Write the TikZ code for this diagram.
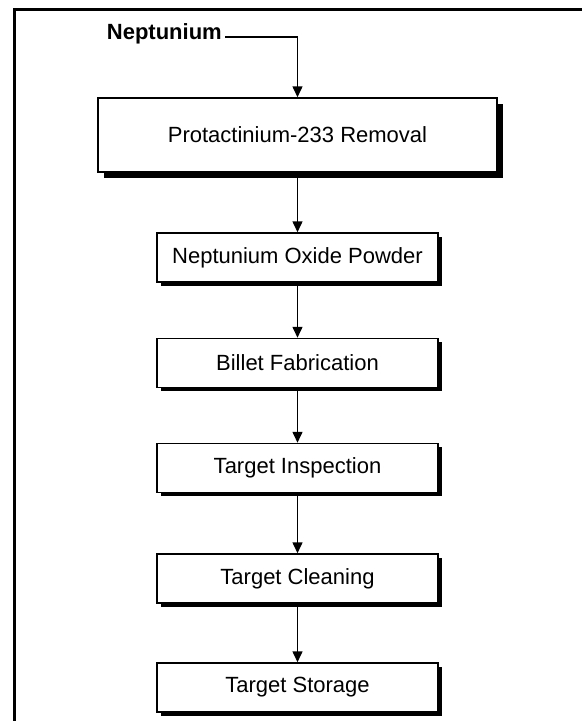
\documentclass[tikz,border=0pt]{standalone}
\usepackage{fontspec}
\setmainfont{Liberation Sans}
\usetikzlibrary{arrows.meta,%
                shapes,shadows,positioning}

\begin{document}
\begin{tikzpicture}[x=1pt,y=-1pt,
  every node/.style={font=\fontsize{22}{26}\selectfont},
  boxbase/.style={draw,fill=white,line width=1.5pt,inner sep=0pt},
  stepbox/.style={boxbase,minimum width=281pt,minimum height=49pt,
    drop shadow={shadow xshift=3.5pt,shadow yshift=-3.5pt,fill=black,opacity=1}},
  bigbox/.style={boxbase,minimum width=399pt,minimum height=74pt,
    drop shadow={shadow xshift=6pt,shadow yshift=-6pt,fill=black,opacity=1}},
  flow/.style={line width=1.5pt,-{Triangle[length=11pt,width=10pt]}}]
\useasboundingbox (0,0) rectangle (582,721);
\draw[line width=3pt] (14.5,721) -- (14.5,9.5) -- (582,9.5);
\node[anchor=mid east,inner sep=0pt,font=\fontsize{22}{26}\selectfont\bfseries] (nep) at (222,37) {Neptunium};
\node[bigbox] (removal) at (297.5,135) {Protactinium-233 Removal};
\node[stepbox] (oxide) at (297.5,257.5) {Neptunium Oxide Powder};
\node[stepbox] (billet) at (297.5,363) {Billet Fabrication};
\node[stepbox] (inspect) at (297.5,468) {Target Inspection};
\node[stepbox] (clean) at (297.5,578.5) {Target Cleaning};
\node[stepbox] (storage) at (297.5,687.5) {Target Storage};
\draw[flow,shorten <=3pt] (nep.mid east) -| (removal.north);
\foreach \a/\b in {removal/oxide,oxide/billet,billet/inspect,inspect/clean,clean/storage}
  \draw[flow] (\a.south) -- (\b.north);
\end{tikzpicture}
\end{document}
